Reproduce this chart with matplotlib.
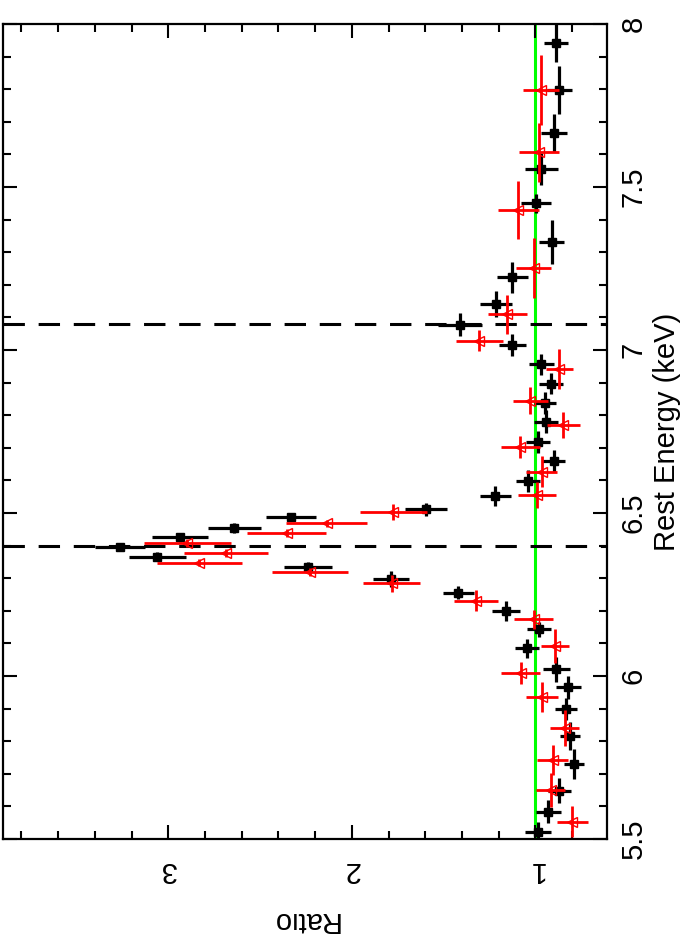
import numpy as np
import matplotlib
matplotlib.use('Agg')
import matplotlib.pyplot as plt
from matplotlib.ticker import MultipleLocator, FormatStrFormatter

# black data set: rest energy (keV), energy half-width, ratio, ratio error
e_blk = [7.943, 7.798, 7.665, 7.555, 7.450, 7.332, 7.223, 7.140, 7.077, 7.015,
         6.956, 6.896, 6.837, 6.780, 6.719, 6.660, 6.599, 6.552, 6.511, 6.487,
         6.453, 6.425, 6.395, 6.366, 6.335, 6.297, 6.256, 6.200, 6.143, 6.085,
         6.021, 5.965, 5.899, 5.816, 5.730, 5.648, 5.584, 5.522]
de_blk = [0.060, 0.074, 0.058, 0.050, 0.030, 0.067, 0.047, 0.040, 0.035, 0.033,
          0.033, 0.032, 0.033, 0.036, 0.034, 0.034, 0.034, 0.030, 0.020, 0.012,
          0.015, 0.013, 0.013, 0.013, 0.015, 0.025, 0.020, 0.030, 0.023, 0.030,
          0.038, 0.034, 0.034, 0.043, 0.046, 0.038, 0.036, 0.030]
r_blk = [0.888, 0.869, 0.900, 0.968, 0.996, 0.910, 1.125, 1.215, 1.410, 1.125,
         0.968, 0.916, 0.947, 0.943, 0.986, 0.901, 1.041, 1.219, 1.595, 2.332,
         2.640, 2.936, 3.263, 3.059, 2.237, 1.786, 1.419, 1.159, 0.978, 1.046,
         0.887, 0.820, 0.834, 0.810, 0.789, 0.869, 0.929, 0.986]
dr_blk = [0.063, 0.068, 0.070, 0.090, 0.080, 0.068, 0.086, 0.085, 0.120, 0.075,
          0.068, 0.066, 0.058, 0.065, 0.066, 0.064, 0.064, 0.084, 0.116, 0.137,
          0.145, 0.153, 0.136, 0.154, 0.130, 0.100, 0.084, 0.075, 0.065, 0.064,
          0.073, 0.068, 0.059, 0.055, 0.056, 0.065, 0.068, 0.073]

# red data set
e_red = [7.798, 7.606, 7.429, 7.251, 7.110, 7.029, 6.941, 6.845, 6.770, 6.703,
         6.627, 6.555, 6.504, 6.468, 6.438, 6.409, 6.378, 6.348, 6.320, 6.284,
         6.231, 6.174, 6.092, 6.010, 5.935, 5.840, 5.742, 5.650, 5.553]
de_red = [0.107, 0.090, 0.090, 0.092, 0.060, 0.033, 0.062, 0.040, 0.041, 0.033,
          0.048, 0.040, 0.025, 0.012, 0.012, 0.012, 0.012, 0.012, 0.012, 0.025,
          0.033, 0.030, 0.052, 0.033, 0.046, 0.055, 0.046, 0.051, 0.048]
r_red = [0.970, 0.980, 1.092, 1.010, 1.152, 1.306, 0.869, 1.028, 0.847, 1.083,
         0.965, 0.992, 1.773, 2.136, 2.354, 2.896, 2.685, 2.830, 2.227, 1.782,
         1.323, 1.010, 0.892, 1.079, 0.965, 0.841, 0.905, 0.916, 0.798]
dr_red = [0.100, 0.110, 0.110, 0.095, 0.105, 0.127, 0.075, 0.095, 0.090, 0.107,
          0.084, 0.104, 0.180, 0.220, 0.215, 0.238, 0.230, 0.230, 0.206, 0.156,
          0.118, 0.104, 0.077, 0.106, 0.088, 0.077, 0.084, 0.080, 0.082]

line_energies = [6.4, 7.08]

plt.rcParams['font.family'] = ['Liberation Sans', 'DejaVu Sans']
plt.rcParams['font.size'] = 21

fig = plt.figure(figsize=(6.84, 9.34), dpi=100)
ax = fig.add_axes([0.0044, 0.1017, 0.883, 0.8726])

# page is rotated: ratio runs right-to-left, energy bottom-to-top
ax.axvline(1.0, color='#00ff00', lw=2.2, zorder=1)
for e in line_energies:
    ax.axhline(e, color='black', lw=2.2, ls=(0, (7, 4.5)), zorder=1)

ax.errorbar(r_blk, e_blk, xerr=dr_blk, yerr=de_blk, fmt='s', color='black',
            ms=6, elinewidth=2.3, capsize=0, zorder=3)
ax.errorbar(r_red, e_red, xerr=dr_red, yerr=de_red, fmt='<', color='red',
            mfc='none', mec='red', ms=7, mew=1.0, elinewidth=2.0, capsize=0,
            zorder=4)

ax.set_xlim(3.9, 0.61)
ax.set_ylim(5.5, 8.0)

ax.xaxis.set_major_locator(MultipleLocator(1))
ax.xaxis.set_minor_locator(MultipleLocator(0.2))
ax.yaxis.set_major_locator(MultipleLocator(0.5))
ax.yaxis.set_minor_locator(MultipleLocator(0.1))
ax.yaxis.set_major_formatter(FormatStrFormatter('%g'))

ax.tick_params(axis='both', which='both', direction='in', width=1.5,
               top=True, bottom=True, left=True, right=True,
               labelleft=False, labelright=True)
ax.tick_params(which='major', length=10)
ax.tick_params(which='minor', length=5.5)
ax.tick_params(axis='y', pad=9)
ax.tick_params(axis='x', pad=12)

for lab in ax.get_yticklabels():
    lab.set_rotation(90)
    lab.set_va('center')
for lab in ax.get_xticklabels():
    lab.set_rotation(180)

ax.yaxis.set_label_position('right')
ax.set_ylabel('Rest Energy (keV)', rotation=90, labelpad=4)
ax.set_xlabel('Ratio', rotation=180, labelpad=16)

for s in ax.spines.values():
    s.set_linewidth(1.6)

fig.savefig('out.png', dpi=100)
